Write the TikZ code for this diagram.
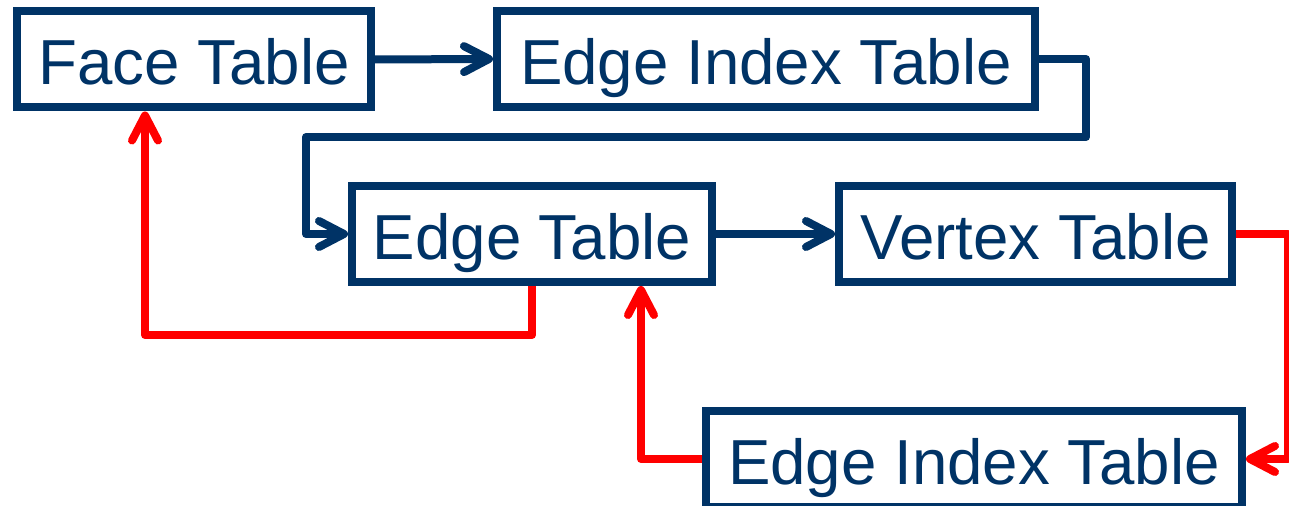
\documentclass[tikz,border=0pt]{standalone}
\usepackage{fontspec}
\setmainfont{Liberation Sans}
\usetikzlibrary{arrows.meta}
\definecolor{navy}{HTML}{003366}
\definecolor{redl}{HTML}{FF0000}

\begin{document}
\begin{tikzpicture}[font=\fontsize{18.1}{20}\selectfont,
    tbl/.style={draw=navy,text=navy,line width=0.08cm,inner sep=0pt,minimum height=0.96cm,
      text height=0.51cm,text depth=0cm},
    fwd/.style={navy,line width=0.08cm,line join=round,-{Straight Barb[round,length=2.5mm,width=2.6mm]}},
    back/.style={fwd,redl}]
    \useasboundingbox (0,0) rectangle (12.89,-5.06);
    % tables
    \node[tbl,minimum width=3.54cm] (face) at (1.94,-0.595) {Face Table};
    \node[tbl,minimum width=5.38cm] (eit1) at (7.66,-0.59) {Edge Index Table};
    \node[tbl,minimum width=3.60cm] (edge) at (5.32,-2.34) {Edge Table};
    \node[tbl,minimum width=3.93cm] (vert) at (10.355,-2.34) {Vertex Table};
    \node[tbl,minimum width=5.36cm] (eit2) at (9.74,-4.59) {Edge Index Table};
    \coordinate (turn) at (3.06,-1.37);
    % forward links
    \draw[fwd] (face.east) -- (eit1.west);
    \draw[fwd] (eit1.east) -- ++(0.47,0) |- (turn) |- (edge.west);
    \draw[fwd] (edge.east) -- (vert.west);
    % back links
    \draw[back] (edge.south) -- ++(0,-0.49) -| ([xshift=-0.49cm]face.south);
    \draw[back] (vert.east) -- ++(0.52,0) |- (eit2.east);
    \draw[back] (eit2.west) -| ([xshift=1.09cm]edge.south);
\end{tikzpicture}
\end{document}
